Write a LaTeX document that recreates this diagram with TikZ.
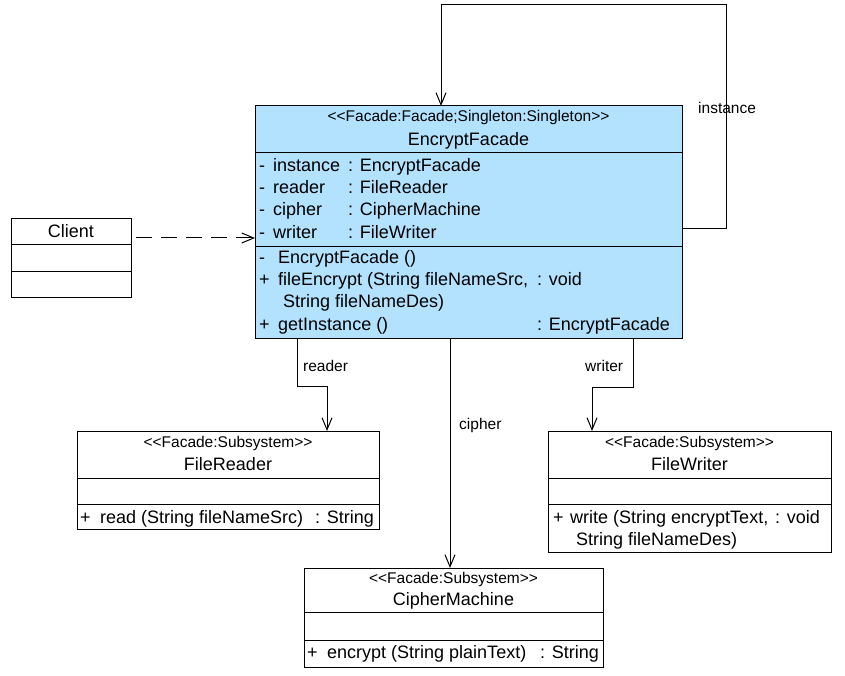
\documentclass[tikz,border=0pt]{standalone}
\usepackage{fontspec}
\setmainfont{Liberation Sans}[Ligatures=TeXOff]
\usetikzlibrary{arrows.meta,calc}
\definecolor{facadeblue}{RGB}{178,226,254}
\begin{document}
\begin{tikzpicture}[x=1pt,y=-1pt,
 box/.style={draw,line width=1pt,rectangle,inner sep=0pt,outer sep=0pt,anchor=north west},
 txt/.style={anchor=base west,inner sep=0pt,font=\fontsize{18}{20}\selectfont},
 ctxt/.style={anchor=base,inner sep=0pt,font=\fontsize{18}{20}\selectfont},
 stereo/.style={anchor=base,inner sep=0pt,font=\fontsize{15.5}{18}\selectfont},
 lbl/.style={anchor=base west,inner sep=0pt,font=\fontsize{15.5}{18}\selectfont},
 divider/.style={line width=1pt},
 assoc/.style={line width=1pt,-{Straight Barb[length=12pt,width=10pt]}},
 dep/.style={assoc,dash pattern=on 16pt off 9pt}]
\useasboundingbox (0,0) rectangle (845,676);

% EncryptFacade
\node[box,fill=facadeblue,minimum width=427pt,minimum height=232pt] (ef) at (255,106) {};
\draw[divider] ($(ef.north west)+(0,47)$) -- ($(ef.north east)+(0,47)$);
\draw[divider] ($(ef.north west)+(0,140)$) -- ($(ef.north east)+(0,140)$);
\node[stereo] (efst) at (468.5,122) {<<Facade:Facade;Singleton:Singleton>>};
\node[ctxt] (efname) at (468.5,146) {EncryptFacade};
\node[txt] (a1v) at (259,172) {-};
\node[txt] (a1n) at (273,172) {instance};
\node[txt] (a1t) at (348,172) {: EncryptFacade};
\node[txt] (a2v) at (259,194) {-};
\node[txt] (a2n) at (273,194) {reader};
\node[txt] (a2t) at (348,194) {: FileReader};
\node[txt] (a3v) at (259,216) {-};
\node[txt] (a3n) at (273,216) {cipher};
\node[txt] (a3t) at (348,216) {: CipherMachine};
\node[txt] (a4v) at (259,238) {-};
\node[txt] (a4n) at (273,238) {writer};
\node[txt] (a4t) at (348,238) {: FileWriter};
\node[txt] (m1v) at (259,263) {-};
\node[txt] (m1n) at (278,263) {EncryptFacade ()};
\node[txt] (m2v) at (259,285) {+};
\node[txt] (m2n) at (278,285) {fileEncrypt (String fileNameSrc,};
\node[txt] (m2t) at (537,285) {: void};
\node[txt] (m2c) at (283,307) {String fileNameDes)};
\node[txt] (m3v) at (259,330) {+};
\node[txt] (m3n) at (278,330) {getInstance ()};
\node[txt] (m3t) at (537,330) {: EncryptFacade};

% Client
\node[box,minimum width=120pt,minimum height=78pt] (client) at (11,219) {};
\draw[divider] ($(client.north west)+(0,25)$) -- ($(client.north east)+(0,25)$);
\draw[divider] ($(client.north west)+(0,52)$) -- ($(client.north east)+(0,52)$);
\node[ctxt] (clname) at (71,237) {Client};

% FileReader
\node[box,minimum width=302pt,minimum height=98pt] (fr) at (77,431) {};
\draw[divider] ($(fr.north west)+(0,47)$) -- ($(fr.north east)+(0,47)$);
\draw[divider] ($(fr.north west)+(0,73)$) -- ($(fr.north east)+(0,73)$);
\node[stereo] (frst) at (228,447) {<<Facade:Subsystem>>};
\node[ctxt] (frname) at (228,470) {FileReader};
\node[txt] (frv) at (80,523) {+};
\node[txt] (frm) at (100,523) {read (String fileNameSrc)};
\node[txt] (frt) at (315,523) {: String};

% FileWriter
\node[box,minimum width=283pt,minimum height=121pt] (fw) at (548,431) {};
\draw[divider] ($(fw.north west)+(0,47)$) -- ($(fw.north east)+(0,47)$);
\draw[divider] ($(fw.north west)+(0,73)$) -- ($(fw.north east)+(0,73)$);
\node[stereo] (fwst) at (689.5,447) {<<Facade:Subsystem>>};
\node[ctxt] (fwname) at (689.5,470) {FileWriter};
\node[txt] (fwv) at (553,523) {+};
\node[txt] (fwm) at (570,523) {write (String encryptText,};
\node[txt] (fwt) at (775,523) {: void};
\node[txt] (fwc) at (576,545) {String fileNameDes)};

% CipherMachine
\node[box,minimum width=299pt,minimum height=99pt] (cm) at (304,568) {};
\draw[divider] ($(cm.north west)+(0,44)$) -- ($(cm.north east)+(0,44)$);
\draw[divider] ($(cm.north west)+(0,72)$) -- ($(cm.north east)+(0,72)$);
\node[stereo] (cmst) at (453.5,583) {<<Facade:Subsystem>>};
\node[ctxt] (cmname) at (453.5,605) {CipherMachine};
\node[txt] (cmv) at (307,658) {+};
\node[txt] (cmm) at (327,658) {encrypt (String plainText)};
\node[txt] (cmt) at (540,658) {: String};

% Connectors
\coordinate (depstart) at (136,238);
\draw[dep] (depstart) -- (depstart -| ef.west);
\draw[assoc] ($(ef.north east)+(0,123)$) -| ($(ef.north east)+(44,-101)$) -| ($(ef.north west)+(186,0)$);
\draw[assoc] ($(ef.south west)+(42,0)$) -- ++(0,48) -| ($(fr.north west)+(250,0)$);
\draw[assoc] ($(ef.south west)+(378,0)$) -- ++(0,49) -| ($(fw.north west)+(44,0)$);
\draw[assoc] ($(ef.south west)+(195,0)$) -- ($(cm.north west)+(146,0)$);

% Labels
\node[lbl] (linst) at (698,114) {instance};
\node[lbl] (lread) at (303,371) {reader};
\node[lbl] (lwrite) at (585,371) {writer};
\node[lbl] (lciph) at (459,429) {cipher};
\end{tikzpicture}
\end{document}
